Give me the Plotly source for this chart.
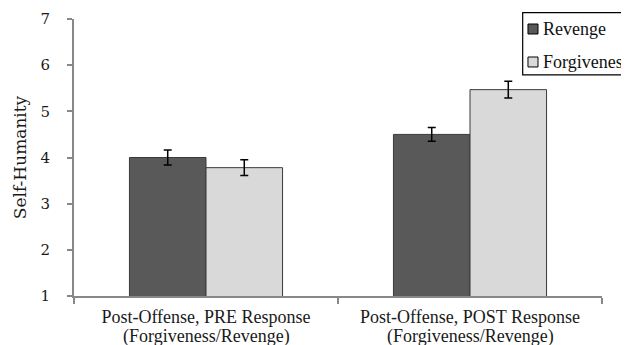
import plotly.graph_objects as go

categories = ["Post-Offense, PRE Response", "Post-Offense, POST Response"]
category_sublabels = ["(Forgiveness/Revenge)", "(Forgiveness/Revenge)"]
series_names = ["Revenge", "Forgiveness"]
revenge = [4.0, 4.5]
revenge_err = [0.16, 0.15]
forgiveness = [3.78, 5.47]
forgiveness_err = [0.17, 0.18]
y_ticks = [1, 2, 3, 4, 5, 6, 7]

times = "Liberation Serif"
cambria = "DejaVu Serif"
colors = ["#595959", "#d9d9d9"]
edge = "#3a3a3a"

fig = go.Figure()
fig.add_trace(go.Bar(
    name=series_names[0], x=categories, y=revenge,
    marker=dict(color=colors[0], line=dict(color=edge, width=1)),
    error_y=dict(type="data", array=revenge_err, color="black", thickness=1.5, width=4),
))
fig.add_trace(go.Bar(
    name=series_names[1], x=categories, y=forgiveness,
    marker=dict(color=colors[1], line=dict(color=edge, width=1)),
    error_y=dict(type="data", array=forgiveness_err, color="black", thickness=1.5, width=4),
))

for cat, sub in zip(categories, category_sublabels):
    fig.add_annotation(x=cat, xref="x", y=-0.148, yref="paper", text=sub,
                       showarrow=False, yanchor="middle",
                       font=dict(family=times, size=18, color="#1a1a1a"))

# manual legend (box partly runs off the right edge like the reference)
fig.add_shape(type="rect", xref="paper", yref="paper", x0=0.8498, x1=1.2,
              y0=0.798, y1=1.0228, line=dict(color="black", width=1.2),
              fillcolor="white", layer="above")
row_y = [0.9639, 0.8448]
for name, col, yy in zip(series_names, colors, row_y):
    fig.add_shape(type="rect", xref="paper", yref="paper", x0=0.8598, x1=0.8788,
                  y0=yy - 0.018, y1=yy + 0.018, line=dict(color="black", width=1),
                  fillcolor=col, layer="above")
    fig.add_annotation(x=0.8845, xref="paper", y=yy, yref="paper", text=name,
                       showarrow=False, xanchor="left", yanchor="middle",
                       font=dict(family=times, size=18, color="#111"))

fig.update_layout(
    width=621, height=337,
    margin=dict(l=66, r=27, t=11, b=49, autoexpand=False),
    paper_bgcolor="white", plot_bgcolor="white",
    barmode="group", bargap=0.42, bargroupgap=0,
    font=dict(family=times, size=18, color="#1a1a1a"),
    showlegend=False,
    xaxis=dict(showline=True, linecolor="#888", linewidth=2,
               ticks="outside", tickson="boundaries", ticklen=6, tickcolor="#888",
               tickwidth=2, tickfont=dict(family=times, size=18, color="#1a1a1a"),
               ticklabelstandoff=3, showgrid=False, automargin=False),
    yaxis=dict(range=[1, 7], tickvals=y_ticks, showline=True, linecolor="#888",
               linewidth=2, ticks="outside", ticklen=5, tickcolor="#888", tickwidth=2,
               showgrid=False, zeroline=False, automargin=False, ticklabelstandoff=14,
               tickfont=dict(family=cambria, size=15, color="#1a1a1a"),
               title=dict(text="Self-Humanity", font=dict(family=cambria, size=17, color="#1a1a1a"),
                          standoff=10)),
)

fig.write_html("out.html")
